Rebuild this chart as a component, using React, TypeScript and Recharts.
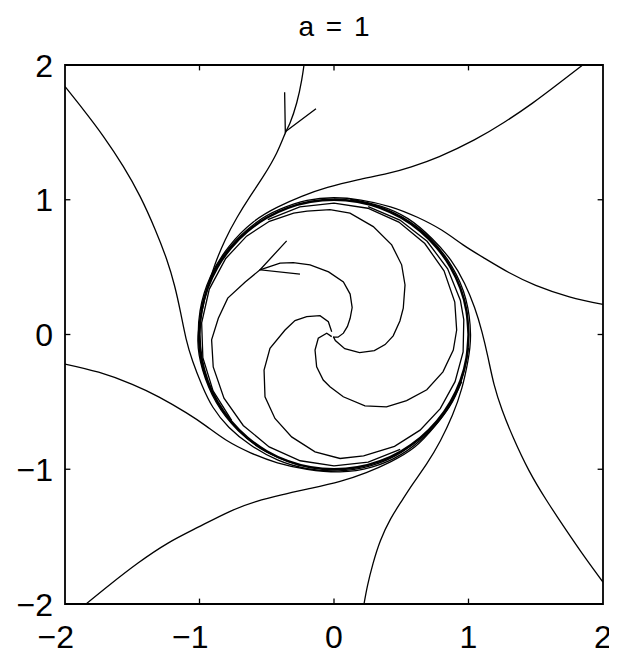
import React from 'react';
import { LineChart, Line, XAxis, YAxis, ReferenceArea, ReferenceLine } from 'recharts';

type P = [number, number];

// Trajectories entering from the box edges
const fromTop: P[] = [
  [-0.223, 2.0], [-0.24, 1.89], [-0.277, 1.72], [-0.327, 1.57], [-0.36, 1.5], [-0.426, 1.347],
  [-0.526, 1.173], [-0.62, 1.03], [-0.72, 0.87], [-0.81, 0.7], [-0.885, 0.52], [-0.945, 0.33],
  [-0.99, 0.13], [-1.012, -0.05], [-0.977, -0.262], [-0.875, -0.505], [-0.713, -0.713],
  [-0.503, -0.871], [-0.26, -0.97],
];
const fromTopLeft: P[] = [
  [-2.0, 1.84], [-1.864, 1.669], [-1.715, 1.471], [-1.567, 1.248], [-1.442, 1.025], [-1.33, 0.78],
  [-1.245, 0.56], [-1.185, 0.36], [-1.14, 0.16], [-1.1, -0.03], [-1.05, -0.2], [-0.98, -0.38],
  [-0.9, -0.54], [-0.78, -0.69], [-0.62, -0.82], [-0.42, -0.93], [-0.2, -0.995], [0.03, -1.012],
  [0.27, -0.975], [0.5, -0.875], [0.7, -0.72],
];
const fromLeft: P[] = [
  [-2.0, -0.219], [-1.75, -0.28], [-1.5, -0.37], [-1.3, -0.465], [-1.1, -0.58], [-0.95, -0.68],
  [-0.8, -0.785], [-0.62, -0.878], [-0.42, -0.952], [-0.2, -1.0], [0.045, -1.02], [0.28, -0.985],
  [0.5, -0.89], [0.69, -0.74], [0.84, -0.56], [0.95, -0.35],
];
const fromBottomLeft: P[] = [
  [-1.844, -2.0], [-1.667, -1.857], [-1.457, -1.696], [-1.234, -1.548], [-1.01, -1.43],
  [-0.776, -1.314], [-0.58, -1.24], [-0.39, -1.19], [-0.174, -1.142], [0.045, -1.09], [0.24, -1.025],
  [0.42, -0.945], [0.6, -0.835], [0.75, -0.68], [0.88, -0.5], [0.96, -0.3], [1.0, -0.1],
];
const fromBottom: P[] = [
  [0.223, -2.0], [0.25, -1.86], [0.29, -1.7], [0.345, -1.53], [0.42, -1.37], [0.5, -1.24],
  [0.585, -1.11], [0.69, -0.958], [0.79, -0.79], [0.88, -0.6], [0.95, -0.4], [0.995, -0.2],
  [1.015, 0.0], [0.98, 0.263], [0.876, 0.506], [0.714, 0.714], [0.504, 0.873], [0.26, 0.972],
  [0.0, 1.005],
];
const fromBottomRight: P[] = [
  [2.0, -1.838], [1.87, -1.66], [1.725, -1.45], [1.58, -1.23], [1.45, -1.01], [1.335, -0.77],
  [1.25, -0.56], [1.19, -0.37], [1.145, -0.17], [1.1, 0.02], [1.045, 0.2], [0.97, 0.38], [0.87, 0.55],
  [0.73, 0.71], [0.55, 0.86], [0.34, 0.955], [0.12, 1.005],
];
const fromRight: P[] = [
  [2.0, 0.223], [1.75, 0.28], [1.5, 0.365], [1.3, 0.46], [1.12, 0.565], [0.96, 0.665], [0.8, 0.775],
  [0.62, 0.87], [0.42, 0.948], [0.2, 0.998], [0.0, 1.015], [-0.2, 0.995], [-0.4, 0.93],
  [-0.58, 0.83], [-0.774, 0.649], [-0.914, 0.426], [-0.991, 0.175],
];
const fromTopRight: P[] = [
  [1.849, 2.0], [1.675, 1.866], [1.476, 1.717], [1.266, 1.575], [1.043, 1.444], [0.783, 1.32],
  [0.575, 1.244], [0.4, 1.195], [0.176, 1.147], [-0.048, 1.091], [-0.24, 1.025], [-0.42, 0.945],
  [-0.6, 0.835], [-0.78, 0.654], [-0.919, 0.429], [-0.996, 0.176], [-1.004, -0.088],
  [-0.945, -0.344], [-0.823, -0.576],
];

// Spirals leaving the origin
const spiralA: P[] = [
  [-0.005, -0.02], [0.03, -0.02], [0.07, 0.01], [0.1, 0.06], [0.12, 0.12], [0.135, 0.2], [0.12, 0.3],
  [0.07, 0.39], [-0.04, 0.465], [-0.178, 0.517], [-0.303, 0.534], [-0.401, 0.529], [-0.55, 0.48],
  [-0.66, 0.39], [-0.79, 0.27], [-0.86, 0.12], [-0.91, -0.04], [-0.898, -0.241], [-0.818, -0.473],
  [-0.675, -0.675], [-0.482, -0.834], [-0.251, -0.937], [0.0, -0.975], [0.254, -0.947],
  [0.492, -0.852],
];
const spiralB: P[] = [
  [-0.005, -0.016], [0.01, -0.045], [0.08, -0.105], [0.19, -0.135], [0.3, -0.12], [0.38, -0.075],
  [0.44, -0.01], [0.49, 0.1], [0.515, 0.195], [0.528, 0.368], [0.503, 0.517], [0.429, 0.665],
  [0.292, 0.801], [0.119, 0.901], [-0.03, 0.926], [-0.2, 0.915], [-0.3, 0.9], [-0.48, 0.84],
  [-0.65, 0.73], [-0.805, 0.564], [-0.927, 0.337], [-0.984, 0.086], [-0.975, -0.172],
  [-0.899, -0.419], [-0.761, -0.638],
];
const spiralC: P[] = [
  [-0.017, 0.02], [-0.042, 0.095], [-0.104, 0.14], [-0.203, 0.132], [-0.29, 0.103], [-0.364, 0.033],
  [-0.476, -0.103], [-0.52, -0.264], [-0.513, -0.462], [-0.439, -0.623], [-0.315, -0.76],
  [-0.141, -0.871], [0.045, -0.92], [0.22, -0.9], [0.45, -0.83], [0.64, -0.71], [0.79, -0.55],
  [0.9, -0.35], [0.96, -0.13], [0.965, 0.11], [0.94, 0.252], [0.845, 0.488], [0.692, 0.692],
  [0.49, 0.849], [0.254, 0.949],
];
const spiralD: P[] = [
  [-0.017, -0.016], [-0.054, 0.009], [-0.117, -0.028], [-0.141, -0.115], [-0.129, -0.24],
  [-0.08, -0.338], [-0.03, -0.388], [0.069, -0.462], [0.23, -0.53], [0.39, -0.537], [0.54, -0.49],
  [0.69, -0.41], [0.81, -0.277], [0.887, -0.115], [0.912, 0.033], [0.898, 0.241], [0.818, 0.473],
  [0.675, 0.675], [0.482, 0.834], [0.251, 0.937], [0.0, 0.975], [-0.254, 0.947], [-0.492, 0.852],
];

// Closed orbit the trajectories settle onto
const cycle: P[] = [
  [1, 0], [0.985, 0.174], [0.94, 0.342], [0.866, 0.5], [0.766, 0.643], [0.643, 0.766], [0.5, 0.866],
  [0.342, 0.94], [0.174, 0.985], [0, 1], [-0.174, 0.985], [-0.342, 0.94], [-0.5, 0.866],
  [-0.643, 0.766], [-0.766, 0.643], [-0.866, 0.5], [-0.94, 0.342], [-0.985, 0.174], [-1, 0],
  [-0.985, -0.174], [-0.94, -0.342], [-0.866, -0.5], [-0.766, -0.643], [-0.643, -0.766],
  [-0.5, -0.866], [-0.342, -0.94], [-0.174, -0.985], [0, -1], [0.174, -0.985], [0.342, -0.94],
  [0.5, -0.866], [0.643, -0.766], [0.766, -0.643], [0.866, -0.5], [0.94, -0.342], [0.985, -0.174],
  [1, 0],
];

// Direction arrowheads
const arrowOuter: P[] = [[-0.367, 1.798], [-0.362, 1.505], [-0.134, 1.676]];
const arrowInner: P[] = [[-0.352, 0.695], [-0.55, 0.48], [-0.253, 0.448]];

const smoothPaths: P[][] = [
  fromTop, fromTopLeft, fromLeft, fromBottomLeft, fromBottom, fromBottomRight, fromRight, fromTopRight,
];
const stepPaths: P[][] = [spiralA, spiralB, spiralC, spiralD, arrowOuter, arrowInner];

const axisTicks = [-2, -1, 0, 1, 2];
const TICK_LEN = 0.04;
const FONT = '"Liberation Sans", Arial, Helvetica, sans-serif';

const toRows = (pts: P[]) => pts.map(([x, y]) => ({ x, y }));
const fmt = (v: number) => (v < 0 ? `\u2212${Math.abs(v)}` : `${v}`);

const XTick = (props: any) => {
  const { x, y, payload } = props;
  const v = payload.value as number;
  const neg = v < 0;
  return (
    <text
      x={neg ? x + 9 : x}
      y={y + 44}
      textAnchor={neg ? 'end' : 'middle'}
      fontFamily={FONT}
      fontSize={32}
      fill="#000"
    >
      {fmt(v)}
    </text>
  );
};

const YTick = (props: any) => {
  const { x, y, payload } = props;
  return (
    <text x={x - 12} y={y + 11.5} textAnchor="end" fontFamily={FONT} fontSize={32} fill="#000">
      {fmt(payload.value as number)}
    </text>
  );
};

export default function App() {
  const inner = axisTicks.filter((t) => t > -2 && t < 2);
  return (
    <div style={{ position: 'relative', width: 609, height: 648 }}>
      <div
        style={{
          position: 'absolute',
          left: 57,
          width: 538,
          top: 4,
          textAlign: 'center',
          fontFamily: FONT,
          fontSize: 28,
          lineHeight: '30px',
          wordSpacing: '4px',
          color: '#000',
        }}
      >
        a = 1
      </div>
      <LineChart width={609} height={648} margin={{ top: 57, right: 14, bottom: 0, left: 0 }}>
        <XAxis
          type="number"
          dataKey="x"
          domain={[-2, 2]}
          ticks={axisTicks}
          allowDataOverflow
          axisLine={false}
          tickLine={false}
          tickSize={0}
          tickMargin={0}
          height={52}
          tick={<XTick />}
          interval={0}
        />
        <YAxis
          type="number"
          dataKey="y"
          domain={[-2, 2]}
          ticks={axisTicks}
          allowDataOverflow
          axisLine={false}
          tickLine={false}
          tickSize={0}
          tickMargin={0}
          width={57}
          tick={<YTick />}
          interval={0}
        />
        {smoothPaths.map((p, i) => (
          <Line
            key={`edge-${i}`}
            data={toRows(p)}
            dataKey="y"
            type="natural"
            stroke="#000"
            strokeWidth={1.3}
            dot={false}
            activeDot={false}
            isAnimationActive={false}
          />
        ))}
        {stepPaths.map((p, i) => (
          <Line
            key={`spiral-${i}`}
            data={toRows(p)}
            dataKey="y"
            type="linear"
            stroke="#000"
            strokeWidth={1.3}
            dot={false}
            activeDot={false}
            isAnimationActive={false}
          />
        ))}
        <Line
          key="cycle"
          data={toRows(cycle)}
          dataKey="y"
          type="natural"
          stroke="#000"
          strokeWidth={2.4}
          dot={false}
          activeDot={false}
          isAnimationActive={false}
        />
        <ReferenceArea x1={-2} x2={2} y1={-2} y2={2} fill="none" stroke="#000" strokeWidth={1.8} />
        {inner.map((t) => (
          <ReferenceLine key={`b${t}`} segment={[{ x: t, y: -2 }, { x: t, y: -2 + TICK_LEN }]} stroke="#000" strokeWidth={1.3} />
        ))}
        {inner.map((t) => (
          <ReferenceLine key={`t${t}`} segment={[{ x: t, y: 2 }, { x: t, y: 2 - TICK_LEN }]} stroke="#000" strokeWidth={1.3} />
        ))}
        {inner.map((t) => (
          <ReferenceLine key={`l${t}`} segment={[{ x: -2, y: t }, { x: -2 + TICK_LEN, y: t }]} stroke="#000" strokeWidth={1.3} />
        ))}
        {inner.map((t) => (
          <ReferenceLine key={`r${t}`} segment={[{ x: 2, y: t }, { x: 2 - TICK_LEN, y: t }]} stroke="#000" strokeWidth={1.3} />
        ))}
      </LineChart>
    </div>
  );
}
